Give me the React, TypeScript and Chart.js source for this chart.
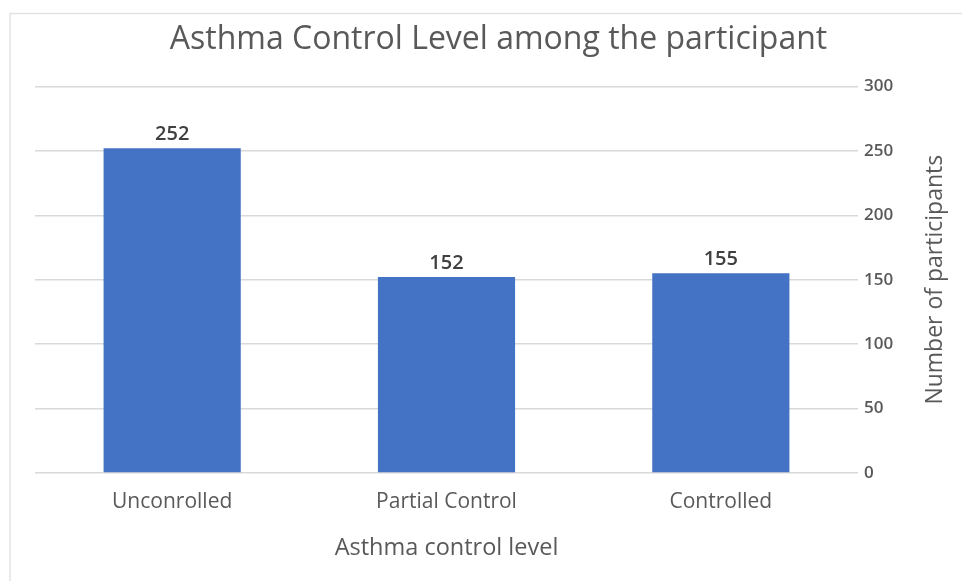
import React, { useEffect, useRef } from "react";
import { Chart, registerables } from "chart.js";

Chart.register(...registerables);

const categories = ["Unconrolled", "Partial Control", "Controlled"];
const participants = [252, 152, 155];
const yTicks = [0, 50, 100, 150, 200, 250, 300];
const chartTitle = "Asthma Control Level among the participant";
const xTitle = "Asthma control level";
const yTitle = "Number of participants";

const FONT = "'Open Sans', sans-serif";

export default function App() {
  const ref = useRef<HTMLCanvasElement | null>(null);
  useEffect(() => {
    document.body.style.margin = "0";
    const canvas = ref.current!;
    const framePlugin = {
      id: "frame",
      beforeDraw(chart: any) {
        const ctx = chart.ctx;
        ctx.save();
        ctx.strokeStyle = "#e3e3e3";
        ctx.lineWidth = 1.5;
        ctx.beginPath();
        ctx.moveTo(10, 581);
        ctx.lineTo(10, 13.5);
        ctx.lineTo(962, 13.5);
        ctx.stroke();
        ctx.restore();
      },
      afterDraw(chart: any) {
        const ctx = chart.ctx;
        const { top, bottom } = chart.chartArea;
        ctx.save();
        ctx.fillStyle = "#595959";
        ctx.font = `23px ${FONT}`;
        ctx.textAlign = "center";
        ctx.textBaseline = "middle";
        ctx.translate(935, (top + bottom) / 2);
        ctx.rotate(-Math.PI / 2);
        ctx.fillText(yTitle, 0, 0);
        ctx.restore();
        // data labels
        const meta = chart.getDatasetMeta(0);
        ctx.save();
        ctx.fillStyle = "#404040";
        ctx.font = `600 20px ${FONT}`;
        ctx.textAlign = "center";
        ctx.textBaseline = "bottom";
        meta.data.forEach((bar: any, i: number) => {
          ctx.fillText(String(participants[i]), bar.x, bar.y - 4);
        });
        ctx.restore();
      },
    };
    const chart = new Chart(canvas, {
      type: "bar",
      data: {
        labels: categories,
        datasets: [
          {
            data: participants,
            backgroundColor: "#4472C4",
            barPercentage: 0.5,
            categoryPercentage: 1,
          },
        ],
      },
      options: {
        animation: false,
        responsive: false,
        layout: { padding: { left: 35, right: 0, top: 0, bottom: 0 } },
        plugins: {
          legend: { display: false },
          tooltip: { enabled: false },
          title: {
            display: true,
            text: chartTitle,
            color: "#595959",
            font: { family: FONT, size: 32, weight: "normal" },
            padding: { top: 21, bottom: 27 },
          },
        },
        scales: {
          x: {
            grid: { display: false, drawTicks: false },
            border: { display: false },
            ticks: {
              color: "#595959",
              font: { family: FONT, size: 21 },
              padding: 16,
              maxRotation: 0,
            },
            title: {
              display: true,
              text: xTitle,
              color: "#595959",
              font: { family: FONT, size: 23.5 },
              padding: { top: 0, bottom: 19 },
            },
            afterFit: (s: any) => {
              s.height = 108;
            },
          },
          y: {
            position: "right",
            min: 0,
            max: 300,
            afterBuildTicks: (s: any) => {
              s.ticks = yTicks.map((v) => ({ value: v }));
            },
            grid: { color: "#d9d9d9", lineWidth: 1.5, drawTicks: false },
            border: { display: false },
            ticks: {
              color: "#595959",
              font: { family: FONT, size: 17, weight: "600" },
              padding: 6,
            },
            afterFit: (s: any) => {
              s.width = 104;
            },
          },
        },
      },
      plugins: [framePlugin],
    });
    return () => chart.destroy();
  }, []);
  return <canvas ref={ref} width={962} height={581} style={{ display: "block" }} />;
}
